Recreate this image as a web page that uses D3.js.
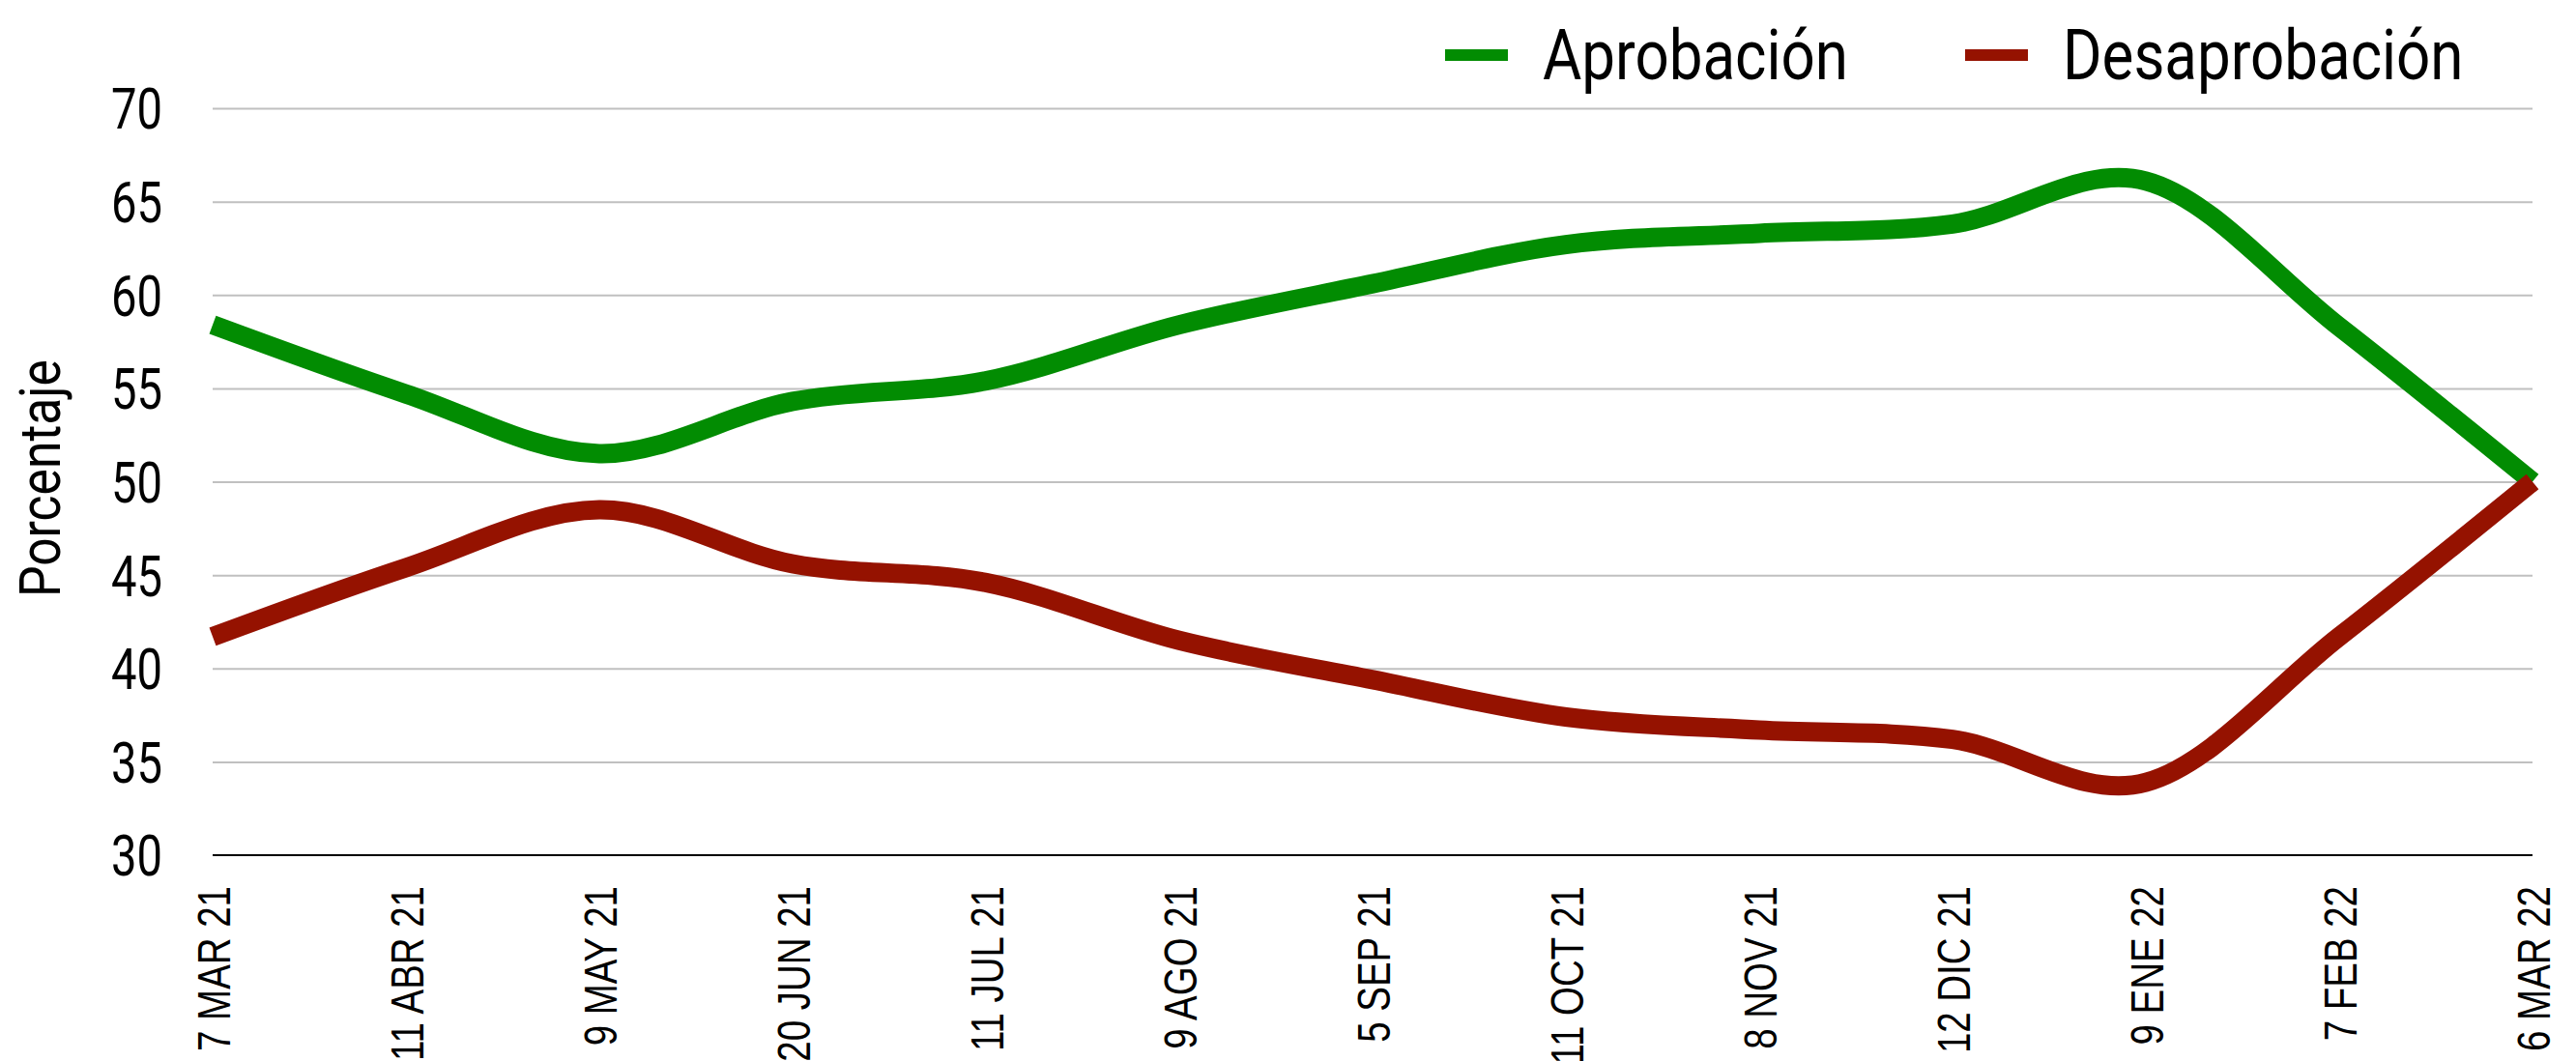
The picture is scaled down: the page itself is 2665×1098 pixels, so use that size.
<!DOCTYPE html>
<html>
<head>
<meta charset="utf-8">
<script src="https://cdn.jsdelivr.net/npm/d3@7"></script>
<style>
  html, body { margin: 0; padding: 0; background: #ffffff; }
  svg { display: block; }
</style>
</head>
<body>
<svg id="chart" width="2665" height="1098"></svg>
<script>
// ---- data ----
const categories = ["7 MAR 21", "11 ABR 21", "9 MAY 21", "20 JUN 21", "11 JUL 21", "9 AGO 21", "5 SEP 21", "11 OCT 21", "8 NOV 21", "12 DIC 21", "9 ENE 22", "7 FEB 22", "6 MAR 22"];
const aprobacion = [58.4, 54.7, 51.5, 54.3, 55.4, 58.4, 60.6, 62.7, 63.3, 63.8, 66.1, 58.3, 50.0];
const desaprobacion = [41.7, 45.4, 48.5, 45.6, 44.6, 41.5, 39.4, 37.4, 36.7, 36.2, 33.9, 41.7, 50.0];
const seriesNames = ["Aprobación", "Desaprobación"];
const yTicks = [30, 35, 40, 45, 50, 55, 60, 65, 70];
const yTitle = "Porcentaje";

(function () {
  // ---- layout ----
  const plotL = 220, plotR = 2620, plotT = 112, plotB = 885;
  const colors = ["#028c02", "#951200"];

  const svg = d3.select("#chart");

  const x = d3.scalePoint().domain(categories).range([plotL, plotR]);
  const y = d3.scaleLinear().domain([30, 70]).range([plotB, plotT]);

  function measure(text, family, size) {
    const t = svg.append("text").attr("font-family", family).attr("font-size", size).text(text);
    const w = t.node().getComputedTextLength();
    t.remove();
    return w || 1;
  }

  const numFont = "Roboto", numSize = 59;
  const fY = 53 / measure("70", numFont, numSize);
  const xFont = "Liberation Sans, Arial, sans-serif", xSize = 49;
  const fX = 171 / measure(categories[0], xFont, xSize);
  const legSize = 72;
  const fL = 316 / measure(seriesNames[0], numFont, legSize);
  const fT = 246 / measure(yTitle, numFont, numSize);

  // ---- y axis with gridlines ----
  const yAxis = d3.axisLeft(y).tickValues(yTicks).tickSize(-(plotR - plotL)).tickPadding(52);
  const gy = svg.append("g").attr("transform", `translate(${plotL},0)`).call(yAxis);
  gy.select(".domain").remove();
  gy.selectAll(".tick line")
    .attr("stroke", "#c0c0c0")
    .attr("stroke-width", 2)
    .attr("display", d => d === 30 ? "none" : null);
  gy.selectAll(".tick text")
    .attr("x", 0)
    .attr("dy", null)
    .attr("y", numSize * 0.355)
    .attr("font-family", numFont)
    .attr("font-size", numSize)
    .attr("fill", "#000")
    .attr("text-anchor", "end")
    .attr("transform", `translate(-52,0) scale(${fY},1)`);

  // ---- x axis ----
  const xAxis = d3.axisBottom(x).tickSize(0).tickSizeOuter(0).tickPadding(0);
  const gx = svg.append("g").attr("transform", `translate(0,${plotB})`).call(xAxis);
  gx.select(".domain").attr("stroke", "#000").attr("stroke-width", 2.2)
    .attr("d", `M${plotL},0H${plotR}`);
  gx.selectAll(".tick line").remove();
  gx.selectAll(".tick text")
    .attr("x", 0)
    .attr("y", xSize * 0.36)
    .attr("dy", null)
    .attr("font-family", xFont)
    .attr("font-size", xSize)
    .attr("fill", "#000")
    .attr("text-anchor", "end")
    .attr("transform", `translate(0,32) rotate(-90) scale(${fX},1)`);

  // ---- y title ----
  svg.append("text")
    .attr("font-family", numFont)
    .attr("font-size", numSize)
    .attr("fill", "#000")
    .attr("text-anchor", "middle")
    .attr("transform", `translate(62,495) rotate(-90) scale(${fT},1)`)
    .text(yTitle);

  // ---- lines ----
  const line = d3.line()
    .x((d, i) => x(categories[i]))
    .y(d => y(d))
    .curve(d3.curveCardinal.tension(0));

  const series = [aprobacion, desaprobacion];
  svg.append("g").selectAll("path")
    .data(series)
    .join("path")
    .attr("d", d => line(d))
    .attr("fill", "none")
    .attr("stroke", (d, i) => colors[i])
    .attr("stroke-width", 20)
    .attr("stroke-linecap", "butt")
    .attr("stroke-linejoin", "round");

  // ---- legend ----
  const legendX = [1495, 2033];
  const lg = svg.append("g");
  seriesNames.forEach((name, i) => {
    lg.append("rect")
      .attr("x", legendX[i]).attr("y", 51)
      .attr("width", 65).attr("height", 12)
      .attr("fill", colors[i]);
    lg.append("text")
      .attr("font-family", numFont)
      .attr("font-size", legSize)
      .attr("fill", "#000")
      .attr("transform", `translate(${legendX[i] + 101},82) scale(${fL},1)`)
      .text(name);
  });
})();
</script>
</body>
</html>
